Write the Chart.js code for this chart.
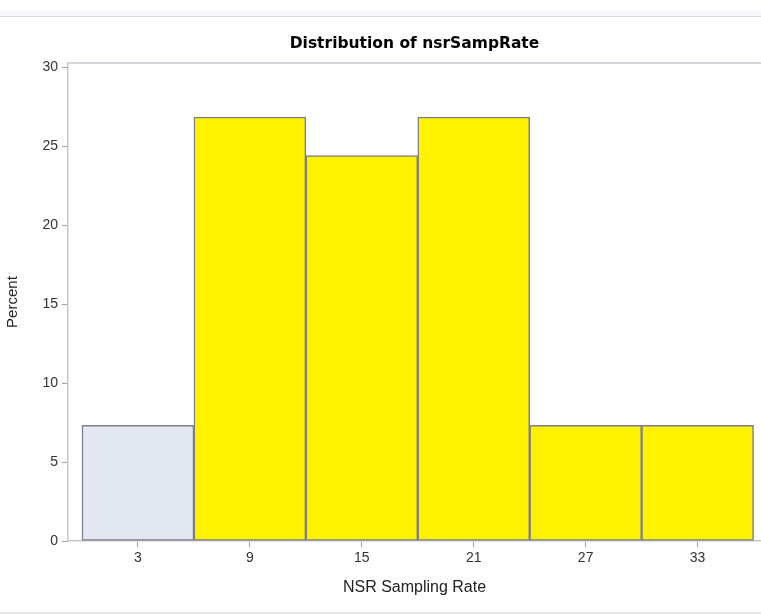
<!DOCTYPE html>
<html>
<head>
<meta charset="utf-8">
<script src="https://cdn.jsdelivr.net/npm/chart.js@4"></script>
<style>
    html, body { margin: 0; padding: 0; background: #fff; overflow: hidden; }
    #topStrip { position: absolute; left: 0; top: 10px; width: 761px; height: 6px; background: #f8f9fd; border-bottom: 1px solid #d8d8d8; }
    #bottomLine { position: absolute; left: 0; top: 612px; width: 761px; height: 2px; background: #e6e6e6; }
    #wrap { position: absolute; left: 0; top: 0; width: 761px; height: 615px; }
</style>
</head>
<body>
<div id="topStrip"></div>
<div id="bottomLine"></div>
<div id="wrap"><canvas id="histChart"></canvas></div>
<script>
// bin midpoints and percent of 41 observations
const binMidpoints = [3, 9, 15, 21, 27, 33];
const percentValues = [7.317, 26.829, 24.390, 26.829, 7.317, 7.317];
const xTickValues = [3, 9, 15, 21, 27, 33];
const yTickValues = [0, 5, 10, 15, 20, 25, 30];

const frameColor = '#c3c7cc';

// top frame line of the plot box
const topFrame = {
    id: 'topFrame',
    afterDraw(chart) {
        const { ctx, chartArea } = chart;
        ctx.save();
        ctx.strokeStyle = frameColor;
        ctx.lineWidth = 1.5;
        ctx.beginPath();
        ctx.moveTo(chartArea.left, chartArea.top);
        ctx.lineTo(chartArea.right, chartArea.top);
        ctx.stroke();
        ctx.restore();
    }
};

const ctx = document.getElementById('histChart').getContext('2d');
new Chart(ctx, {
    type: 'bar',
    data: {
        datasets: [{
            data: binMidpoints.map((x, i) => ({ x: x, y: percentValues[i] })),
            backgroundColor: c => c.dataIndex === 0 ? '#e3e7f1' : '#fff200',
            borderColor: '#7b7e8e',
            borderWidth: 1.5,
            borderSkipped: false,
            barPercentage: 1,
            categoryPercentage: 1
        }]
    },
    options: {
        responsive: true,
        maintainAspectRatio: false,
        animation: false,
        layout: { padding: { top: 18, left: 0, right: 0, bottom: 0 } },
        plugins: {
            legend: { display: false },
            tooltip: { enabled: false },
            title: {
                display: true,
                fullSize: false,
                text: 'Distribution of nsrSampRate',
                color: '#000',
                font: { family: 'DejaVu Sans', size: 15.5, weight: 'bold' },
                padding: { top: 17, bottom: 9.5 }
            }
        },
        scales: {
            x: {
                type: 'linear',
                min: -0.75,
                max: 36.4,
                offset: false,
                afterBuildTicks: scale => {
                    scale.ticks = xTickValues.map(v => ({ value: v }));
                },
                afterFit: scale => { scale.height = 74; },
                grid: { offset: false, drawOnChartArea: false, tickLength: 6, color: '#a0a0a0', lineWidth: 1 },
                border: { color: frameColor, width: 1.5 },
                ticks: {
                    color: '#333',
                    padding: 3,
                    maxRotation: 0,
                    autoSkip: false,
                    font: { family: 'Liberation Sans', size: 14 }
                },
                title: {
                    display: true,
                    text: 'NSR Sampling Rate',
                    color: '#222',
                    font: { family: 'Liberation Sans', size: 16 },
                    padding: { top: 4, bottom: 18 }
                }
            },
            y: {
                min: 0,
                max: 30.25,
                afterBuildTicks: scale => {
                    scale.ticks = yTickValues.map(v => ({ value: v }));
                },
                afterFit: scale => { scale.width = 68; },
                grid: { drawOnChartArea: false, tickLength: 6, color: '#a0a0a0', lineWidth: 1 },
                border: { color: frameColor, width: 1.5 },
                ticks: {
                    color: '#333',
                    padding: 4,
                    font: { family: 'Liberation Sans', size: 14 }
                },
                title: {
                    display: true,
                    text: 'Percent',
                    color: '#222',
                    font: { family: 'Liberation Sans', size: 15 },
                    padding: { top: 4, bottom: 0 }
                }
            }
        }
    },
    plugins: [topFrame]
});
</script>
</body>
</html>
